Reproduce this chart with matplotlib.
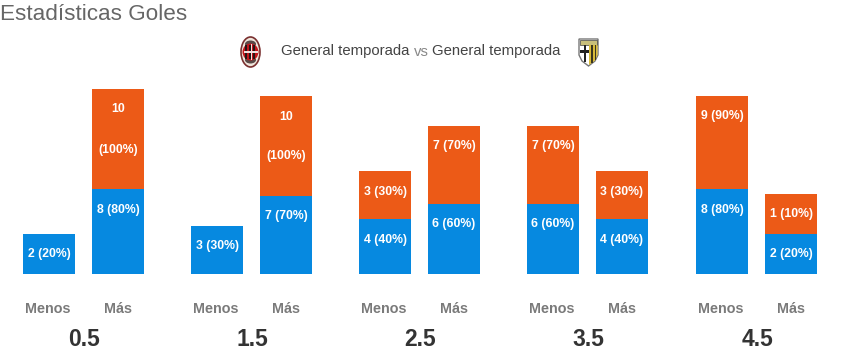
import math
import matplotlib
matplotlib.use('Agg')
import matplotlib.pyplot as plt
from matplotlib.patches import Ellipse, Polygon, Rectangle

plt.rcParams['font.family'] = 'Liberation Sans'

# Data
lines = ['0.5', '1.5', '2.5', '3.5', '4.5']
menos_blue = [2, 3, 4, 6, 8]
menos_blue_pct = [20, 30, 40, 60, 80]
menos_orange = [0, 0, 3, 7, 9]
menos_orange_pct = [0, 0, 30, 70, 90]
mas_blue = [8, 7, 6, 4, 2]
mas_blue_pct = [80, 70, 60, 40, 20]
mas_orange = [10, 10, 7, 3, 1]
mas_orange_pct = [100, 100, 70, 30, 10]

BLUE = '#0689e0'
ORANGE = '#ec5a17'
GREY = '#7a7a7a'


# the site draws bars with an offset and a minimum height
def seg_height(v):
    if v == 0:
        return 0
    return max(40, math.ceil(25 + 7.5 * v))


fig = plt.figure(figsize=(8.43, 3.58), dpi=100)
ax = fig.add_axes([0, 0, 1, 1])
ax.set_xlim(0, 843)
ax.set_ylim(358, 0)
ax.axis('off')

base = 274
width = 52
group_x = [23, 191, 359, 527, 696]


def bar_label(x, y, s):
    ax.text(x + width / 2, y, s, color='white', fontsize=8.8, fontweight='bold',
            ha='center', va='center')


def draw_stack(x, blue, blue_pct, orange, orange_pct):
    hb = seg_height(blue)
    ho = seg_height(orange)
    ax.bar(x, -hb, width, bottom=base, color=BLUE, align='edge')
    bar_label(x, base - hb + 20.5, f'{blue} ({blue_pct}%)')
    if orange == 0:
        return
    ax.bar(x, -ho, width, bottom=base - hb, color=ORANGE, align='edge')
    top = base - hb - ho
    if orange_pct == 100:
        bar_label(x, top + 20.5, str(orange))
        bar_label(x, top + 60.5, f'({orange_pct}%)')
    else:
        bar_label(x, top + 20.5, f'{orange} ({orange_pct}%)')


for i, name in enumerate(lines):
    x0 = group_x[i]
    x1 = x0 + 69
    draw_stack(x0, menos_blue[i], menos_blue_pct[i], menos_orange[i], menos_orange_pct[i])
    draw_stack(x1, mas_blue[i], mas_blue_pct[i], mas_orange[i], mas_orange_pct[i])
    ax.text(x0 + width / 2 - 1, 309, 'Menos', color=GREY, fontsize=10.4, fontweight='bold',
            ha='center', va='center')
    ax.text(x1 + width / 2, 309, 'Más', color=GREY, fontsize=10.4, fontweight='bold',
            ha='center', va='center')
    ax.text(x0 + 61, 340, name, color='#333333', fontsize=16.5, fontweight='bold',
            ha='center', va='center')

# Title and header
ax.text(0, 14, 'Estadísticas Goles', color='#666666', fontsize=16.2, ha='left', va='center')
ax.text(281, 51, 'General temporada', color='#444444', fontsize=10.7, ha='left', va='center')
ax.text(414, 51.5, 'vs', color='#888888', fontsize=10.7, ha='left', va='center')
ax.text(432, 51, 'General temporada', color='#444444', fontsize=10.7, ha='left', va='center')

# Milan badge
ax.add_patch(Ellipse((250.5, 52), 19, 30, fc='#efe6dc', ec='#7a3030', lw=1.2))
ax.add_patch(Ellipse((250.5, 44), 11, 7, fc='#5a4a48', ec='none'))
ax.add_patch(Ellipse((250.5, 60), 11, 7, fc='#5a4a48', ec='none'))
ax.add_patch(Ellipse((250.5, 52), 16, 17, fc='#c4161c', ec='none'))
for sx in [245, 248.5, 253]:
    ax.add_patch(Rectangle((sx, 45), 2, 14, fc='#2a1515'))
ax.add_patch(Rectangle((243.5, 51), 14, 1.5, fc='#f2dede'))
ax.add_patch(Rectangle((250.5, 44), 1.5, 16, fc='#f2dede'))

# Parma badge
shield = [(579, 39), (598, 39), (598, 55), (595, 61), (588.5, 66), (582, 61), (579, 55)]
ax.add_patch(Polygon(shield, closed=True, fc='white', ec='#777777', lw=1))
ax.add_patch(Rectangle((580, 40), 17, 4.5, fc='#c9bf7a', ec='#444444', lw=0.5))
ax.add_patch(Rectangle((583.5, 45), 2.5, 17, fc='#222222'))
ax.add_patch(Rectangle((580, 50), 9, 2.5, fc='#222222'))
ax.add_patch(Polygon([(589, 45), (597.5, 45), (597.5, 55), (595, 60.5), (589, 65)],
                     closed=True, fc='#d8bb3a', ec='none'))
ax.add_patch(Rectangle((591, 45), 1.6, 18, fc='#3a3520'))
ax.add_patch(Rectangle((594.5, 45), 1.6, 15, fc='#3a3520'))

fig.savefig('out.png', dpi=100)
